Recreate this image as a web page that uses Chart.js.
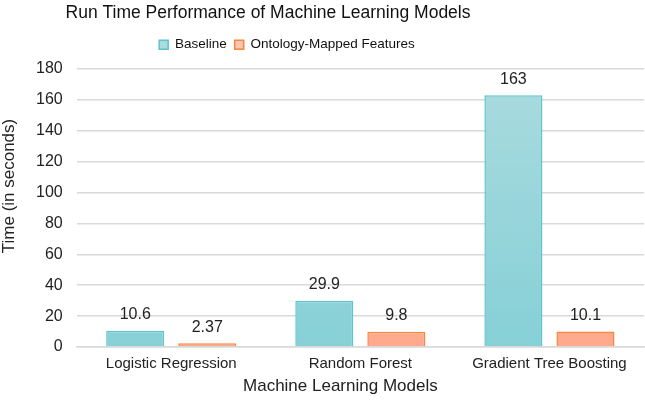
<!DOCTYPE html>
<html>
<head>
<meta charset="utf-8">
<script src="https://cdn.jsdelivr.net/npm/chart.js@4"></script>
<style>
  html, body { margin: 0; padding: 0; background: #fff; }
  #wrap { width: 645px; height: 402px; position: relative; }
</style>
</head>
<body>
<div id="wrap"><canvas id="chart"></canvas></div>
<script>
const models = ['Logistic Regression', 'Random Forest', 'Gradient Tree Boosting'];
const baseline = [10.6, 29.9, 163];
const ontology = [2.37, 9.8, 10.1];
const baselineLabels = ['10.6', '29.9', '163'];
const ontologyLabels = ['2.37', '9.8', '10.1'];
const xAxisTitle = 'Machine Learning Models';
const yAxisTitle = 'Time (in seconds)';

const FONT = 'Liberation Sans, Arial, sans-serif';

function vGradient(top, bottom) {
  return (ctx) => {
    const area = ctx.chart.chartArea;
    if (!area) return bottom;
    const g = ctx.chart.ctx.createLinearGradient(0, area.top, 0, area.bottom);
    g.addColorStop(0, top);
    g.addColorStop(1, bottom);
    return g;
  };
}

// extra room under the legend
const legendGap = {
  id: 'legendGap',
  beforeInit(chart) {
    const fit = chart.legend.fit;
    chart.legend.fit = function () {
      fit.call(this);
      this.height += 7.5;
    };
  }
};

// the original's title, legend and axis titles sit off the plot centre
const shiftBoxes = {
  id: 'shiftBoxes',
  afterLayout(chart) {
    const t = chart.titleBlock, l = chart.legend;
    if (t) { t.left -= 65; t.right -= 65; }
    if (l) { l.left -= 46; l.right -= 46; }
  }
};

const valueLabels = {
  id: 'valueLabels',
  afterDatasetsDraw(chart) {
    const ctx = chart.ctx;
    const texts = [baselineLabels, ontologyLabels];
    ctx.save();
    ctx.font = '16px ' + FONT;
    ctx.fillStyle = '#222';
    ctx.textAlign = 'center';
    ctx.textBaseline = 'bottom';
    chart.data.datasets.forEach((ds, i) => {
      chart.getDatasetMeta(i).data.forEach((bar, j) => {
        ctx.fillText(texts[i][j], bar.x, bar.y - 8);
      });
    });
    const a = chart.chartArea;
    ctx.font = '17px ' + FONT;
    ctx.textBaseline = 'middle';
    ctx.fillText(xAxisTitle, (a.left + a.right) / 2 - 20, a.bottom + 39);
    ctx.translate(9, (a.top + a.bottom) / 2 - 22);
    ctx.rotate(-Math.PI / 2);
    ctx.fillText(yAxisTitle, 0, 0);
    ctx.restore();
  }
};

new Chart(document.getElementById('chart'), {
  type: 'bar',
  data: {
    labels: models,
    datasets: [
      {
        label: 'Baseline',
        data: baseline,
        backgroundColor: vGradient('#aadbdf', '#86d0d6'),
        borderColor: '#5ec4cd',
        borderWidth: 1.5
      },
      {
        label: 'Ontology-Mapped Features',
        data: ontology,
        backgroundColor: vGradient('#ffc4b2', '#ffa98d'),
        borderColor: '#f5883a',
        borderWidth: 1.5
      }
    ]
  },
  options: {
    responsive: true,
    maintainAspectRatio: false,
    animation: false,
    categoryPercentage: 0.762,
    barPercentage: 0.806,
    layout: { padding: { left: 22, right: 1, top: 0, bottom: 21 } },
    plugins: {
      title: {
        display: true,
        text: 'Run Time Performance of Machine Learning Models',
        color: '#111',
        font: { family: FONT, size: 17.5, weight: 'normal' },
        padding: { top: 2.5, bottom: 6.5 }
      },
      legend: {
        position: 'top',
        labels: {
          color: '#111',
          font: { family: FONT, size: 13.5 },
          boxWidth: 9,
          boxHeight: 9,
          padding: 8
        }
      },
      tooltip: { enabled: false }
    },
    scales: {
      x: {
        grid: { display: false, drawTicks: false },
        border: { color: '#d9d9d9', width: 1.5 },
        ticks: { color: '#222', font: { family: FONT, size: 15 }, padding: 8 }
      },
      y: {
        min: 0,
        max: 180,
        ticks: { stepSize: 20, color: '#222', font: { family: FONT, size: 16 }, padding: 14 },
        grid: { color: '#d9d9d9', lineWidth: 1.5, drawTicks: false },
        border: { display: false }
      }
    }
  },
  plugins: [legendGap, shiftBoxes, valueLabels]
});
</script>
</body>
</html>
